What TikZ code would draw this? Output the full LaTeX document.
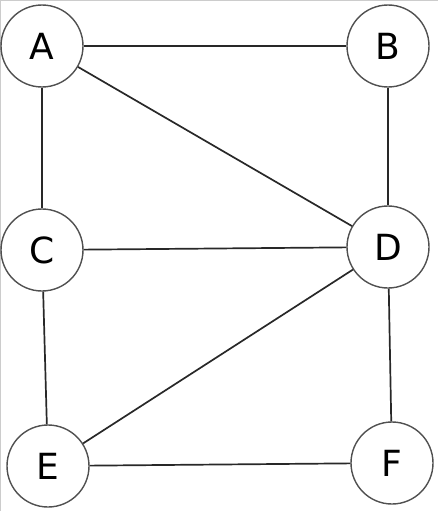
\documentclass[tikz,border=0pt]{standalone}
\usepackage{fontspec}
\setmainfont{DejaVu Sans}
\definecolor{edgegray}{RGB}{40,40,40}
\definecolor{ringgray}{RGB}{80,80,80}
\usetikzlibrary{positioning}

\begin{document}
\begin{tikzpicture}[x=1pt,y=-1pt,
    vertex/.style={circle,draw=ringgray,line width=1.4pt,fill=white,minimum size=82pt,inner sep=0pt,font=\fontsize{36}{36}\selectfont},
    edge/.style={draw=edgegray,line width=1.7pt}]
  \useasboundingbox (0,0) rectangle (438,511);
  % frame
  \draw[gray!40,line width=1pt] (0.5,511) -- (0.5,0.5) -- (438,0.5);
  % Vertices
  \node[vertex] (A) at (42,46)  {A};
  \node[vertex] (B) at (388,46) {B};
  \node[vertex] (C) at (42,250) {C};
  \node[vertex] (D) at (388,247) {D};
  \node[vertex] (E) at (48,466) {E};
  \node[vertex] (F) at (392,463) {F};
  % Edges
  \foreach \u/\v in {A/B,A/C,A/D,B/D,C/D,C/E,D/E,D/F,E/F}
    \draw[edge] (\u) -- (\v);
\end{tikzpicture}
\end{document}
